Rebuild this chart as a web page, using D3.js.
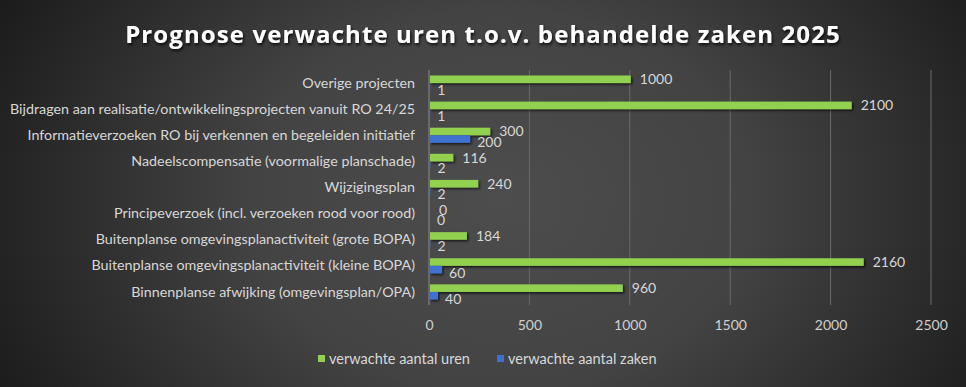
<!DOCTYPE html>
<html><head><meta charset="utf-8">
<script src="https://cdn.jsdelivr.net/npm/d3@7"></script>
<style>
html,body{margin:0;padding:0;background:#2a2a2a;}
svg{display:block;}
</style></head>
<body>
<svg id="chart" width="966" height="387"></svg>
<script>
const categories = [
  "Overige projecten",
  "Bijdragen aan realisatie/ontwikkelingsprojecten vanuit RO 24/25",
  "Informatieverzoeken RO bij verkennen en begeleiden initiatief",
  "Nadeelscompensatie (voormalige planschade)",
  "Wijzigingsplan",
  "Principeverzoek (incl. verzoeken rood voor rood)",
  "Buitenplanse omgevingsplanactiviteit (grote BOPA)",
  "Buitenplanse omgevingsplanactiviteit (kleine BOPA)",
  "Binnenplanse afwijking (omgevingsplan/OPA)"
];
const uren = [1000, 2100, 300, 116, 240, 0, 184, 2160, 960];
const zaken = [1, 1, 200, 2, 2, 0, 2, 60, 40];
const seriesNames = ["verwachte aantal uren", "verwachte aantal zaken"];
const xTicks = [0, 500, 1000, 1500, 2000, 2500];
const title = "Prognose verwachte uren t.o.v. behandelde zaken 2025";

const W = 966, H = 387;
const svg = d3.select("#chart");
const defs = svg.append("defs");
const rg = defs.append("radialGradient").attr("id","bg")
  .attr("gradientUnits","userSpaceOnUse").attr("cx",500).attr("cy",200).attr("r",560)
  .attr("gradientTransform","translate(500,200) scale(1,0.75) translate(-500,-200)");
rg.append("stop").attr("offset","0").attr("stop-color","#4d4d4d");
rg.append("stop").attr("offset","0.45").attr("stop-color","#434343");
rg.append("stop").attr("offset","1").attr("stop-color","#1c1c1c");
svg.append("rect").attr("width",W).attr("height",H).attr("fill","url(#bg)");

const sh = defs.append("filter").attr("id","shadow").attr("x","-10%").attr("y","-50%").attr("width","130%").attr("height","250%");
sh.append("feDropShadow").attr("dx",1.5).attr("dy",1.5).attr("stdDeviation",1).attr("flood-color","#000").attr("flood-opacity",0.7);
const tsh = defs.append("filter").attr("id","tshadow").attr("x","-5%").attr("y","-30%").attr("width","110%").attr("height","170%");
tsh.append("feDropShadow").attr("dx",1).attr("dy",2).attr("stdDeviation",1.5).attr("flood-color","#000").attr("flood-opacity",0.8);

const FONT = "Lato, 'Open Sans', sans-serif";
const x = d3.scaleLinear().domain([0, 2500]).range([429, 931]);
const y = d3.scaleBand().domain(categories).range([70, 305]).paddingInner(0.42).paddingOuter(0.21);
const sub = d3.scaleBand().domain([0,1]).range([0, y.bandwidth()]);

// title
svg.append("text").attr("x", 483).attr("y", 43).attr("text-anchor","middle")
  .attr("font-family","'Open Sans', sans-serif").attr("font-weight","bold").attr("font-size",24)
  .attr("letter-spacing",1.1).attr("fill","#ffffff").attr("filter","url(#tshadow)").text(title);

// gridlines
svg.append("g").selectAll("line").data(xTicks.slice(1)).join("line")
  .attr("x1", d=>x(d)).attr("x2", d=>x(d)).attr("y1",70).attr("y2",305)
  .attr("stroke","#6a6a6a").attr("stroke-width",1);

// x axis
const xAxis = svg.append("g").attr("transform","translate(0,305)")
  .call(d3.axisBottom(x).tickValues(xTicks).tickSize(0).tickPadding(15).tickFormat(d3.format("d")));
xAxis.select(".domain").remove();
xAxis.selectAll("text").attr("font-family",FONT).attr("font-size",14).attr("fill","#d0d0d0");

// y axis
const yAxis = svg.append("g").attr("transform","translate(429,0)")
  .call(d3.axisLeft(y).tickSize(0).tickPadding(14));
yAxis.select(".domain").attr("stroke","#8c8c8c").attr("d","M0,70V305");
yAxis.selectAll("text").attr("font-family",FONT).attr("font-size",14.3).attr("fill","#d8d8d8");

const colors = ["#92d050", "#3f6fd0"];
const seriesData = [uren, zaken];
seriesData.forEach((vals, si) => {
  const g = svg.append("g");
  g.selectAll("rect").data(vals).join("rect")
    .attr("x", x(0)+1)
    .attr("y", (d,i)=> y(categories[i]) + sub(si))
    .attr("width", d=> Math.max(0, x(d)-x(0)))
    .attr("height", sub.bandwidth())
    .attr("fill", colors[si]).attr("filter","url(#shadow)");
  g.selectAll("text").data(vals).join("text")
    .attr("x", d=> x(d) + (si===0 ? 10 : 8))
    .attr("y", (d,i)=> y(categories[i]) + sub(si) + sub.bandwidth()/2 + (si===0 ? 0 : 3))
    .attr("dy","0.35em")
    .attr("font-family",FONT).attr("font-size",14).attr("fill","#d8d8d8")
    .text(d=>d);
});

// legend
const legend = svg.append("g");
const lx = [318, 497];
seriesNames.forEach((n,i)=>{
  legend.append("rect").attr("x",lx[i]).attr("y",355).attr("width",7).attr("height",7).attr("fill",colors[i]);
  legend.append("text").attr("x",lx[i]+11).attr("y",359).attr("dy","0.35em")
    .attr("font-family",FONT).attr("font-size",14.5).attr("fill","#d8d8d8").text(n);
});
</script>
</body></html>
